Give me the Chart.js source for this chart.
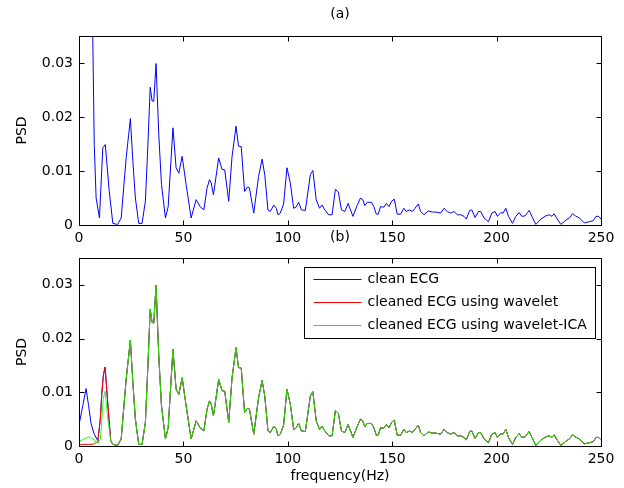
<!DOCTYPE html>
<html>
<head>
<meta charset="utf-8">
<script src="https://cdn.jsdelivr.net/npm/chart.js@4.4.1/dist/chart.umd.min.js"></script>
<style>
    html, body { margin: 0; padding: 0; background: #fff; }
    #wrap { position: relative; width: 624px; height: 488px; overflow: hidden; }
    canvas { position: absolute; left: 0; }
    #chartA { top: 0; }
    #chartB { top: 226px; }
</style>
</head>
<body>
<div id="wrap">
    <canvas id="chartA" width="624" height="248"></canvas>
    <canvas id="chartB" width="624" height="262"></canvas>
</div>
<script>
const FONT = 'DejaVu Sans';

const xTicks = [0, 50, 100, 150, 200, 250];
const yTicks = [0, 0.01, 0.02, 0.03];

// (a) PSD
const freqA = [
    0, 3, 6, 7.3, 8.2, 9.8, 11.4, 12.6, 14.5, 16.2,
    18.5, 20.2, 22.6, 23.8, 24.6, 25.8, 27, 28.6, 30.2, 31.8,
    33, 34.1, 35, 35.8, 36.9, 38.2, 39.5, 41.4, 42.7, 45,
    46.5, 47.8, 49.4, 51.3, 53.7, 56.1, 58, 59.8, 61.3, 62.5,
    63.3, 64.4, 66.9, 68.5, 69.8, 71.7, 73.3, 75.2, 76.4, 77.7,
    79.3, 80.6, 81.6, 83.7, 86, 87.7, 89, 90.5, 91.6, 93.3,
    94.5, 95.3, 96.4, 98, 99.6, 101.2, 102.8, 103.9, 105.2, 106.5,
    108.4, 110.8, 112, 113.6, 115.2, 116.4, 117.7, 119.6, 121.2, 122.8,
    124.2, 125.7, 127.3, 128.9, 131.2, 133.2, 134.8, 135.9, 136.9, 138,
    140.1, 141.2, 142.4, 143.3, 144.4, 146, 147.2, 148.5, 149.7, 151,
    152.4, 154, 155.6, 156.7, 158.3, 159.6, 160.9, 162.5, 163.6, 165.2,
    167.3, 169.2, 170.8, 173.2, 174.8, 176.4, 178, 179.6, 181.2, 182.8,
    184.4, 185.5, 187.1, 188.1, 189.7, 191.3, 192.4, 194, 196.1, 197.7,
    199.3, 200.4, 202, 203.1, 204.4, 205.7, 207.6, 209.2, 210.8, 212.1,
    213.7, 214.8, 215.6, 216.9, 218.8, 221.2, 223.6, 225.2, 226.5, 227.6,
    228.7, 230.8, 232.9, 235.1, 236.4, 237.7, 239.6, 242, 244.4, 246.3,
    247.6, 248.9, 250
];
const psdA = [
    0.1, 0.08, 0.052, 0.0149, 0.005, 0.0013, 0.0143, 0.0149, 0.0062, 0.0003,
    0.0001, 0.0013, 0.0125, 0.0168, 0.0197, 0.0118, 0.005, 0.0003, 0.0003, 0.0044,
    0.0149, 0.0255, 0.023, 0.0229, 0.0299, 0.0168, 0.0075, 0.0013, 0.0034, 0.018,
    0.0106, 0.0096, 0.0127, 0.0075, 0.0013, 0.0047, 0.0034, 0.0028, 0.0068, 0.0084,
    0.0078, 0.0056, 0.0124, 0.0103, 0.0102, 0.0044, 0.0127, 0.0183, 0.0146, 0.0145,
    0.0062, 0.007, 0.0069, 0.0022, 0.009, 0.0122, 0.0092, 0.0028, 0.0025, 0.0037,
    0.0031, 0.0019, 0.0022, 0.0039, 0.0106, 0.0078, 0.0031, 0.0033, 0.0042, 0.0028,
    0.0027, 0.0093, 0.0101, 0.0047, 0.0031, 0.0037, 0.0028, 0.0019, 0.0019, 0.0066,
    0.0061, 0.0028, 0.0025, 0.004, 0.0016, 0.0036, 0.005, 0.0047, 0.0036, 0.0042,
    0.0042, 0.0034, 0.002, 0.002, 0.0034, 0.0033, 0.004, 0.0034, 0.0044, 0.0048,
    0.002, 0.002, 0.0031, 0.0025, 0.0028, 0.0025, 0.0031, 0.0039, 0.0025, 0.0019,
    0.0026, 0.0024, 0.0024, 0.0022, 0.0031, 0.0025, 0.0022, 0.0025, 0.0019, 0.0019,
    0.0016, 0.0011, 0.0027, 0.0028, 0.0014, 0.0025, 0.0025, 0.0013, 0.0006, 0.0022,
    0.0025, 0.0016, 0.0023, 0.0022, 0.0031, 0.0016, 0.0003, 0.0016, 0.0023, 0.0016,
    0.0017, 0.0023, 0.0027, 0.0016, 0.0001, 0.0011, 0.0017, 0.0019, 0.0016, 0.0021,
    0.0013, 0.0001, 0.0008, 0.0014, 0.0021, 0.0017, 0.0013, 0.0004, 0.0006, 0.0008,
    0.0016, 0.0016, 0.0011
];

// (b) low-frequency part where the three curves differ; above it they follow (a)
const freqLow = [0, 1.8, 3.4, 4.6, 5.8, 7.3, 9, 10.2, 10.9, 11.6, 12.5, 13.8, 15.2];
const cleanLow = [0.0039, 0.0075, 0.0107, 0.0075, 0.0041, 0.0022, 0.001, 0.005, 0.0096, 0.013, 0.0147, 0.0078, 0.001];
const waveletLow = [0.0002, 0.0003, 0.0003, 0.0003, 0.0003, 0.0004, 0.0008, 0.005, 0.0096, 0.013, 0.0147, 0.0078, 0.001];
const icaLow = [0.0009, 0.0012, 0.0015, 0.0017, 0.0015, 0.0011, 0.0005, 0.0012, 0.0045, 0.0088, 0.0102, 0.005, 0.001];

const seriesLabels = ['clean ECG', 'cleaned ECG using wavelet', 'cleaned ECG using wavelet-ICA'];
const seriesColors = ['#0000ff', '#ff0000', '#00ff00'];
// green drawn slightly see-through so the red under it tints the shared stretch
const lineColors = ['#0000ff', '#ff0000', 'rgba(0, 255, 0, 0.88)'];

const toPoints = (fs, vs) => fs.map((f, i) => ({ x: f, y: vs[i] }));
const lowEnd = freqLow[freqLow.length - 1];
const tail = toPoints(freqA, psdA).filter(p => p.x > lowEnd);
const seriesB = [cleanLow, waveletLow, icaLow].map(v => toPoints(freqLow, v).concat(tail));

// matlab-style box, inward ticks, panel label and legend
const matlabBox = {
    id: 'matlabBox',
    afterDraw(chart, args, opts) {
        const { ctx, chartArea: a, scales } = chart;
        const L = Math.round(a.left) + 0.5, R = Math.round(a.right) + 0.5;
        const T = Math.round(a.top) + 0.5, B = Math.round(a.bottom) + 0.5;
        ctx.save();
        ctx.strokeStyle = '#000';
        ctx.lineWidth = 1;
        ctx.beginPath();
        xTicks.forEach(v => {
            const px = Math.round(scales.x.getPixelForValue(v)) + 0.5;
            ctx.moveTo(px, B); ctx.lineTo(px, B - 5);
            ctx.moveTo(px, T); ctx.lineTo(px, T + 5);
        });
        yTicks.forEach(v => {
            const py = Math.round(scales.y.getPixelForValue(v)) + 0.5;
            ctx.moveTo(L, py); ctx.lineTo(L + 5, py);
            ctx.moveTo(R, py); ctx.lineTo(R - 5, py);
        });
        ctx.stroke();
        ctx.strokeRect(L, T, R - L, B - T);

        ctx.fillStyle = '#000';
        ctx.font = '14px "' + FONT + '"';
        ctx.textAlign = 'center';
        ctx.textBaseline = 'middle';
        ctx.fillText(opts.label, (a.left + a.right) / 2, opts.labelY);

        if (opts.legend) {
            const w = 291, h = 71;
            const bx = Math.round(a.right) - 6 - w + 0.5;
            const by = Math.round(a.top) + 9 + 0.5;
            ctx.fillStyle = '#fff';
            ctx.fillRect(bx, by, w, h);
            ctx.strokeRect(bx, by, w, h);
            ctx.textAlign = 'left';
            seriesLabels.forEach((label, i) => {
                const y = Math.round(by + 11 + i * 23.3) + 0.5;
                ctx.strokeStyle = seriesColors[i];
                ctx.beginPath();
                ctx.moveTo(bx + 9, y);
                ctx.lineTo(bx + 57, y);
                ctx.stroke();
                ctx.fillStyle = '#000';
                ctx.fillText(label, bx + 63, y);
            });
        }
        ctx.restore();
    }
};

function makeScales(xHeight, xTitle) {
    const tickFont = { family: FONT, size: 14 };
    return {
        x: {
            type: 'linear',
            min: 0,
            max: 250,
            afterBuildTicks: s => { s.ticks = xTicks.map(v => ({ value: v })); },
            afterFit: s => { s.height = xHeight; },
            grid: { display: false, drawTicks: false },
            border: { display: false },
            ticks: { color: '#000', font: tickFont, padding: 5, maxRotation: 0, autoSkip: false },
            title: {
                display: !!xTitle,
                text: xTitle || '',
                color: '#000',
                font: tickFont,
                padding: { top: 0, bottom: 3 }
            }
        },
        y: {
            type: 'linear',
            min: 0,
            max: 0.035,
            afterBuildTicks: s => { s.ticks = yTicks.map(v => ({ value: v })); },
            afterFit: s => { s.width = 79; },
            grid: { display: false, drawTicks: false },
            border: { display: false },
            ticks: {
                color: '#000',
                font: tickFont,
                padding: 6,
                callback: v => (v === 0 ? '0' : v.toFixed(2))
            },
            title: {
                display: true,
                text: 'PSD',
                color: '#000',
                font: tickFont,
                padding: { top: 14, bottom: 0 }
            }
        }
    };
}

const lineStyle = { borderWidth: 1, pointRadius: 0, tension: 0, fill: false };

new Chart(document.getElementById('chartA'), {
    type: 'line',
    data: {
        datasets: [{
            label: 'PSD',
            data: toPoints(freqA, psdA),
            borderColor: '#0000ff',
            ...lineStyle
        }]
    },
    options: {
        responsive: false,
        animation: false,
        layout: { padding: { top: 36, right: 23, bottom: 0, left: 0 } },
        scales: makeScales(23, null),
        plugins: {
            legend: { display: false },
            tooltip: { enabled: false },
            matlabBox: { label: '(a)', labelY: 14, legend: false }
        }
    },
    plugins: [matlabBox]
});

new Chart(document.getElementById('chartB'), {
    type: 'line',
    data: {
        datasets: seriesB.map((pts, i) => ({
            label: seriesLabels[i],
            data: pts,
            borderColor: lineColors[i],
            order: 3 - i,
            ...lineStyle
        }))
    },
    options: {
        responsive: false,
        animation: false,
        layout: { padding: { top: 32, right: 23, bottom: 0, left: 0 } },
        scales: makeScales(42, 'frequency(Hz)'),
        plugins: {
            legend: { display: false },
            tooltip: { enabled: false },
            matlabBox: { label: '(b)', labelY: 11, legend: true }
        }
    },
    plugins: [matlabBox]
});
</script>
</body>
</html>
